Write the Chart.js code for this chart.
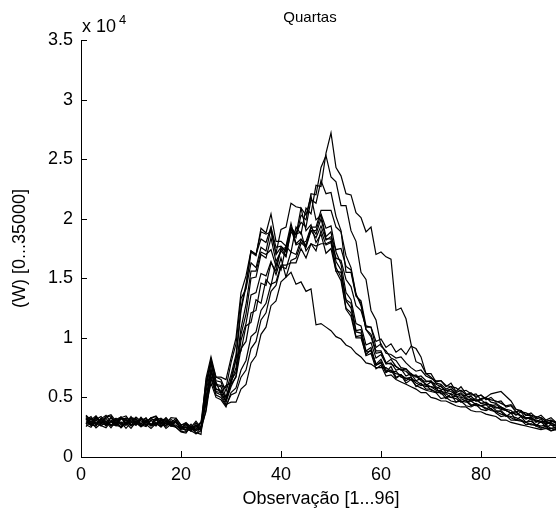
<!DOCTYPE html>
<html>
<head>
<meta charset="utf-8">
<script src="https://cdn.jsdelivr.net/npm/chart.js@4"></script>
<style>
html, body { margin: 0; padding: 0; background: #fff; overflow: hidden; }
#wrap { width: 556px; height: 517px; overflow: hidden; position: relative; }
#wrap canvas { position: absolute; left: 0; top: 0; }
</style>
</head>
<body>
<div id="wrap"><canvas id="quartasChart" width="620" height="517"></canvas></div>
<script>
// Observations 1..96 (15 min steps of a day)
const observations = [
  1,2,3,4,5,6,7,8,9,10,11,12,13,14,15,16,17,18,19,20,21,22,23,24,
  25,26,27,28,29,30,31,32,33,34,35,36,37,38,39,40,41,42,43,44,45,46,47,48,
  49,50,51,52,53,54,55,56,57,58,59,60,61,62,63,64,65,66,67,68,69,70,71,72,
  73,74,75,76,77,78,79,80,81,82,83,84,85,86,87,88,89,90,91,92,93,94,95,96
];

const yTicks = [0, 5000, 10000, 15000, 20000, 25000, 30000, 35000];
const xTicks = [0, 20, 40, 60, 80];

// one curve per Wednesday (W)
const quarta01 = [
  3100,3400,2800,3200,3500,2900,3150,2700,3300,3050,2650,3250,2850,3300,2800,3100,3000,2600,3100,2400,2500,2150,2700,2250,
  5000,7300,5500,5400,6000,6200,8300,8900,11000,11300,13200,12900,
  14900,14400,16300,15700,17700,17200,19300,18700,20900,20400,22800,22700,
  25500,27200,24300,23600,22100,22000,20500,20100,18900,19300,17000,17200,
  16800,16600,12300,12500,11600,9500,8000,7800,7000,7000,6300,6400,
  5900,6200,5500,5900,5300,5200,5300,4800,5000,4600,4500,4200,
  4000,3900,3500,3800,3200,3400,2900,3200,2700,3000,2900,2700
];
const quarta02 = [
  2700,2500,3100,2650,2450,3000,2600,2950,2400,2900,3000,2550,3050,2650,2900,2500,3000,2600,2500,2150,2100,2500,1950,2200,
  4000,7100,6300,5300,4700,6100,6700,9100,9700,12100,12300,14600,
  14400,16300,15600,17500,16900,18900,18400,20300,19900,22100,22000,24300,
  25300,23500,23100,21100,21100,19000,18100,15500,14900,12300,11500,9300,
  8900,8300,8100,7500,7400,6900,6800,6400,6100,5900,5800,5300,
  5300,5000,4900,4600,4800,4400,4300,4300,4100,3900,3800,3600,
  3500,3300,3100,3000,2900,2700,2700,2500,2400,2400,2500,2300
];
const quarta03 = [
  3500,3100,3450,2950,3400,3550,3000,3300,3450,2900,3350,3000,2950,3300,3450,2900,3300,2850,3250,2650,2900,2500,3000,2450,
  6200,7900,6100,6000,5800,7900,9500,13300,14100,16300,15900,17600,
  17300,19200,17000,17600,17200,19300,18700,19700,19300,21600,21300,23200,
  22100,22200,20200,19000,15500,15500,13500,13100,11000,10900,9200,9500,
  8700,8600,8300,8400,7900,7500,7200,7300,6800,6600,6400,6400,
  6000,5900,5800,5500,5600,5300,5100,5200,4900,4800,4700,4500,
  4300,4400,4000,3800,3700,3500,3400,3300,3000,3100,2900,3000
];
const quarta04 = [
  2750,3200,2650,3150,2600,3050,3250,2800,2650,3100,3200,2600,3100,2700,3150,2600,3050,2700,2900,2300,2750,2200,2650,2250,
  5800,8200,6400,6300,5000,6400,7100,10300,12000,15000,15100,17000,
  16700,18400,16400,17300,16800,19100,18600,20900,20300,21900,19900,20300,
  18500,18900,16400,15700,13200,12900,10600,10700,8900,9200,7700,7900,
  7100,7300,6600,6900,6200,6500,6000,5800,5600,5500,5400,4900,
  5000,4700,4600,4700,4300,4200,4400,4000,3900,4100,3700,3400,
  3500,3100,3100,3100,2700,2800,2600,2400,2600,2200,2400,2300
];
const quarta05 = [
  3300,2750,3150,3400,2950,2700,2650,3200,3250,2750,2700,3250,2600,3100,3200,2700,2650,3150,2900,2500,2700,2400,2300,2900,
  6300,8100,6700,6500,5500,6900,8600,12500,14500,17300,17000,18900,
  18700,18900,17100,19100,19300,21300,21000,20900,19000,19500,18000,18700,
  17100,17500,15600,15500,13100,12500,10500,10400,8800,8900,7700,8000,
  7100,7600,6700,6900,6400,6700,5900,6200,5700,5700,5400,5400,
  4900,5300,4600,4900,4700,4300,4500,4300,4000,4300,3900,3800,
  3400,3700,3100,3400,2900,3200,2600,3000,2500,2700,2400,2600
];
const quarta06 = [
  2550,3000,2450,2800,3050,2600,2900,2450,2850,2400,2950,2550,2750,2400,2800,2950,2400,2750,2500,2100,2000,2600,2050,1900,
  5900,7800,6000,5900,4700,6600,8200,12300,14300,17200,16900,19200,
  18800,20400,18100,18100,17700,19600,17900,18300,17700,19300,18700,20000,
  18300,18300,15900,15100,12500,12100,10100,10200,8500,8700,7400,7700,
  6800,6900,6500,6300,6100,5900,5700,5400,5400,5000,4900,4700,
  4700,4500,4300,4200,4200,3900,3800,3800,3600,3500,3400,3100,
  3100,2900,2800,2700,2600,2500,2400,2300,2400,2200,2300,2200
];
const quarta07 = [
  3200,2700,3300,2750,3250,2650,3150,3350,2700,3250,2750,3100,3250,2650,3100,3250,2750,2700,2950,2400,2550,2300,2450,2350,
  4600,7200,5700,5500,4600,5900,6800,9800,11200,13600,13800,15400,
  15200,16400,15300,16700,15100,15500,14500,14700,13900,14100,11100,11200,
  10900,10600,10100,9900,9400,9200,8700,8400,7900,7800,7500,7500,
  7500,7200,7000,6900,6600,6500,6400,6100,5900,5900,5600,5500,
  5400,5300,5100,5000,4900,4700,4800,4500,4400,4400,4200,4000,
  3900,3700,3600,3500,3300,3200,3100,3000,2900,2800,2700,2700
];
const quarta08 = [
  3050,2700,2600,3200,2700,3000,2650,2550,3150,2650,3050,2700,2550,3100,2600,3150,2550,3000,2500,2650,2150,2500,2250,2450,
  3800,6600,5200,5000,4300,5200,5400,6700,7300,9100,9700,11500,
  12100,13900,14400,16000,15800,17200,17000,18200,17800,19000,18400,19400,
  18200,18500,17400,17500,16000,15700,13600,12900,10700,10100,8700,8800,
  7900,8200,7600,7300,7200,6800,6900,6500,6300,6400,5900,5700,
  5600,5500,5200,5300,4900,4800,4900,4500,4600,4300,4100,4200,
  3900,3700,3800,3400,3300,3300,3000,2900,3000,2700,2600,2800
];
const quarta09 = [
  3450,2900,3400,2850,3350,3450,2800,3350,2850,3400,2800,3350,2850,3250,3400,2900,2800,3300,3250,2700,2800,2550,2500,2950,
  4400,6200,5000,4800,4200,5400,5800,7300,8100,10100,10500,12300,
  12900,14500,14700,16100,16100,16300,16300,17500,16700,17900,17700,17900,
  17900,18100,16700,16500,14900,14300,12700,12300,10900,10900,9700,9900,
  9200,9500,8800,9100,8600,9300,9100,8400,7000,6700,6200,6100,
  5700,5900,5400,5600,5200,5400,5000,5200,4800,5000,4600,4700,
  4200,4300,3800,3900,3500,3700,3300,3500,3100,3300,2900,3100
];
const quarta10 = [
  2750,3300,2700,3250,2750,3350,2700,3200,3100,2650,3200,2800,3100,2750,2650,3200,3100,2800,2950,2500,2300,2750,2200,2400,
  6600,8400,6700,6700,6500,8300,10000,13800,15200,17300,17000,18300,
  18000,19300,17600,17700,17300,19100,18700,18900,17300,17900,17300,19000,
  17800,18000,15600,14800,12400,11800,10000,10000,8600,9000,7800,8200,
  7300,7100,7200,6700,6600,6700,6200,6000,6100,5600,5500,5600,
  5100,5000,5100,4700,4600,4700,4400,4300,4400,4000,3800,3900,
  3500,3400,3300,3100,2900,3000,2700,2600,2700,2400,2300,2500
];
const quarta11 = [
  2950,2650,2900,2600,2950,2450,3000,2500,2950,2600,2850,2550,2900,2600,2800,2550,2850,2600,2700,2250,2350,2200,1950,2450,
  5500,7400,5700,5600,5000,6200,7500,10800,12800,15600,15600,17200,
  17000,17400,16000,17400,17600,19200,17800,18000,17600,19000,19000,20400,
  19200,19400,17200,16200,13800,13200,11200,11000,9400,9600,8300,8600,
  7800,7900,7300,7400,6800,7000,6400,6600,6000,6300,5700,6000,
  5400,5700,5200,5400,5000,5100,4700,4900,5000,5300,5400,5500,
  5100,4700,4000,3900,3500,3500,3200,3300,3000,3100,2800,3000
];
const quarta12 = [
  3300,2750,3350,2800,2700,3300,2750,3350,2750,3300,3200,2750,3300,2700,3300,2750,3250,2700,3100,2450,2800,2300,2850,2350,
  4900,6800,5400,5200,4400,4600,4600,5700,6100,7900,8500,10300,
  10900,12700,13100,14700,15100,16500,16700,17900,18100,19300,19300,20700,
  20700,20700,19300,18900,16900,15900,13700,12700,10700,10300,8900,8900,
  7900,7800,7600,7300,7400,7000,6700,6800,6400,6300,6100,5900,
  5600,5700,5300,5100,5200,4900,4700,4800,4500,4300,4400,4100,
  3900,3700,3800,3400,3200,3300,3000,2900,2800,2900,2600,2700
];

const allDays = [quarta01, quarta02, quarta03, quarta04, quarta05, quarta06,
                 quarta07, quarta08, quarta09, quarta10, quarta11, quarta12];

const fontFamily = '"Liberation Sans", Arial, Helvetica, sans-serif';

// matlab style: ticks pointing inside, title over the axes and the "x 10^4" multiplier
const matlabAxes = {
    id: 'matlabAxes',
    afterDatasetsDraw(chart) {
        const c = chart.ctx;
        const xs = chart.scales.x;
        const ys = chart.scales.y;
        const area = chart.chartArea;
        c.save();
        c.strokeStyle = '#000';
        c.lineWidth = 1;
        c.beginPath();
        xTicks.forEach(v => {
            const px = Math.round(xs.getPixelForValue(v)) + 0.5;
            c.moveTo(px, area.bottom);
            c.lineTo(px, area.bottom - 6);
        });
        yTicks.forEach(v => {
            const py = Math.round(ys.getPixelForValue(v)) + 0.5;
            c.moveTo(area.left, py);
            c.lineTo(area.left + 6, py);
        });
        c.stroke();

        c.fillStyle = '#000';
        c.textBaseline = 'alphabetic';
        c.font = '18px ' + fontFamily;
        c.fillText('x 10', area.left + 1, area.top - 8);
        c.font = '13px ' + fontFamily;
        c.fillText('4', area.left + 38, area.top - 16);

        c.font = '15px ' + fontFamily;
        c.textAlign = 'center';
        c.fillText('Quartas', 310, 22);
        c.restore();
    }
};

const ctx = document.getElementById('quartasChart').getContext('2d');
const quartasChart = new Chart(ctx, {
    type: 'line',
    data: {
        datasets: allDays.map((day, n) => ({
            label: 'Quarta ' + (n + 1),
            data: day.map((v, i) => ({ x: observations[i], y: v })),
            borderColor: '#000',
            borderWidth: 1.2,
            pointRadius: 0,
            tension: 0,
            fill: false
        }))
    },
    options: {
        responsive: false,
        animation: false,
        layout: { padding: { left: 0, right: 59, top: 40, bottom: 0 } },
        plugins: {
            legend: { display: false },
            tooltip: { enabled: false },
            title: { display: false }
        },
        scales: {
            x: {
                type: 'linear',
                min: 0,
                max: 96,
                grid: { display: false, drawTicks: false },
                border: { display: true, color: '#000', width: 1 },
                ticks: {
                    stepSize: 20,
                    color: '#000',
                    font: { family: fontFamily, size: 18 },
                    padding: 7,
                    maxRotation: 0
                },
                title: {
                    display: true,
                    text: 'Observação [1...96]',
                    color: '#000',
                    font: { family: fontFamily, size: 18 },
                    padding: { top: 0, bottom: 7 }
                },
                afterBuildTicks: s => { s.ticks = s.ticks.filter(t => xTicks.includes(t.value)); },
                afterFit: s => { s.height = 60; }
            },
            y: {
                min: 0,
                max: 35000,
                grid: { display: false, drawTicks: false },
                border: { display: true, color: '#000', width: 1 },
                ticks: {
                    stepSize: 5000,
                    color: '#000',
                    font: { family: fontFamily, size: 18 },
                    padding: 8,
                    callback: v => String(v / 10000)
                },
                title: {
                    display: true,
                    text: '(W) [0...35000]',
                    color: '#000',
                    font: { family: fontFamily, size: 18 },
                    padding: { top: 9, bottom: 0 }
                },
                afterFit: s => { s.width = 81; }
            }
        }
    },
    plugins: [matlabAxes]
});
</script>
</body>
</html>
